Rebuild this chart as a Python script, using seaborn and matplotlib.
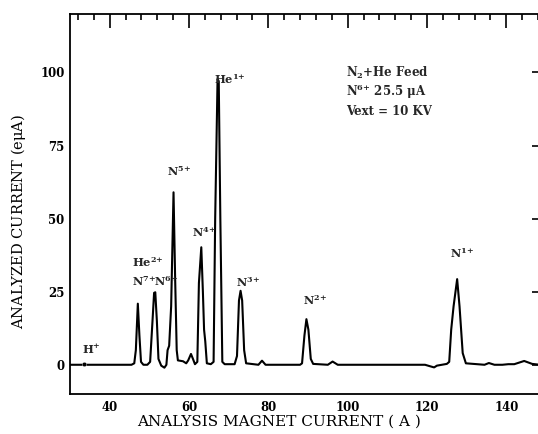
import matplotlib
matplotlib.use("Agg")
import matplotlib.pyplot as plt
import numpy as np
import pandas as pd
import seaborn as sns
from matplotlib.ticker import FixedLocator, MultipleLocator

# ---- data ----
magnet_current = [30, 33.0, 34.0, 45.5, 46.2, 46.6, 47.1, 47.5, 47.9, 48.5, 49.5,
                  50.2, 50.8, 51.2, 51.5, 51.9, 52.3, 53.0, 53.8, 54.3, 54.6, 55.0,
                  55.5, 56.1, 56.5, 56.9, 57.2, 58.5, 59.3, 59.8, 60.5, 61.0, 61.5,
                  62.1, 62.5, 63.1, 63.5, 63.8, 64.1, 64.5, 65.5, 66.2, 66.6, 67.2,
                  67.5, 67.9, 68.4, 69.0, 71.5, 72.1, 72.6, 73.0, 73.4, 73.9, 74.4,
                  77.5, 78.4, 79.3, 88.0, 88.5, 89.1, 89.6, 90.1, 90.7, 91.3, 95.0,
                  96.2, 97.5, 119.5, 121.0, 121.8, 122.5, 125.0, 125.6, 126.1, 126.7,
                  127.6, 128.2, 129.0, 129.8, 134.5, 135.6, 137.0, 139.0, 140.5,
                  142.0, 144.5, 146.5, 148.5, 150.0]
analyzed_current = [0, 0, 0, 0, 0.5, 5, 20.9, 10, 1, 0, 0,
                    1, 15, 24.6, 24.8, 15, 2, -0.3, -1.0, 0, 5, 6.5,
                    20, 59.0, 30, 5, 1.5, 1.2, 0.5, 1.5, 3.7, 2, 0.2,
                    1, 28, 40.2, 25, 12, 8, 0.5, 0.2, 1, 50, 97.8,
                    97, 50, 1, 0.2, 0.2, 3, 22, 25.3, 22, 5, 0.5,
                    0, 1.4, 0, 0, 0.5, 10, 15.6, 12, 2, 0.3, 0,
                    1.1, 0, 0, -0.6, -0.9, -0.3, 0.3, 1, 12, 20,
                    29.3, 20, 4, 0.5, 0, 0.6, 0, 0, 0.2,
                    0.2, 1.3, 0.3, 0, 0]

h_dot_x = [33.5]
h_dot_y = [0.3]

peak_labels = [r"H$^{\mathbf{{+}}}$", r"He$^{\mathbf{2{+}}}$", r"N$^{\mathbf{7{+}}}$",
               r"N$^{\mathbf{6{+}}}$", r"N$^{\mathbf{5{+}}}$", r"He$^{\mathbf{1{+}}}$",
               r"N$^{\mathbf{4{+}}}$", r"N$^{\mathbf{3{+}}}$", r"N$^{\mathbf{2{+}}}$",
               r"N$^{\mathbf{1{+}}}$"]
label_x = [33.1, 45.6, 45.6, 51.2, 54.5, 66.2, 60.8, 71.9, 88.7, 125.8]
label_y = [3.8, 33.3, 27.0, 27.0, 64.5, 95.9, 43.6, 26.5, 20.5, 36.5]

info_lines = [r"N$_{\mathbf{2}}$+He Feed", r"N$^{\mathbf{6{+}}}$ 25.5 $\mathbf{\mu}$A",
              "Vext = 10 KV"]
info_x = 99.6
info_y = [98.6, 92.1, 85.6]

x_ticks = [40, 60, 80, 100, 120, 140]
y_ticks = [0, 25, 50, 75, 100]
x_label = "ANALYSIS MAGNET CURRENT ( A )"
y_label = "ANALYZED CURRENT (e$\\mu$A)"

# ---- style ----
sns.set_theme(style="white")
plt.rcParams["font.family"] = ["DejaVu Serif"]
plt.rcParams["mathtext.fontset"] = "dejavuserif"
plt.rcParams["mathtext.default"] = "regular"

fig = plt.figure(figsize=(5.38, 4.34), dpi=100)
ax = fig.add_axes([70 / 538, 40 / 434, 476 / 538, 380 / 434])

df = pd.DataFrame({"x": magnet_current, "y": analyzed_current})
sns.lineplot(data=df, x="x", y="y", sort=False, estimator=None,
             color="black", linewidth=1.5, ax=ax)
sns.scatterplot(x=h_dot_x, y=h_dot_y, color="black", s=10, ax=ax, zorder=3)

ax.set_xlim(30, 150)
ax.set_ylim(-10, 120)

ax.xaxis.set_major_locator(FixedLocator(x_ticks))
ax.xaxis.set_minor_locator(MultipleLocator(4))
ax.yaxis.set_major_locator(FixedLocator(y_ticks))
ax.yaxis.set_minor_locator(MultipleLocator(5))

for sp in ax.spines.values():
    sp.set_color("black")
    sp.set_linewidth(1.3)

ax.tick_params(which="both", direction="in", top=True, right=True,
               color="black", width=1.2)
ax.tick_params(which="major", length=10)
ax.tick_params(which="minor", length=4)
ax.tick_params(axis="x", which="major", pad=5, labelsize=8.5)
ax.tick_params(axis="y", which="major", pad=4, labelsize=8.5)
ax.yaxis.set_tick_params(which="minor", right=False)
for lbl in ax.get_xticklabels() + ax.get_yticklabels():
    lbl.set_fontweight("bold")
    lbl.set_color("black")

ax.set_xlabel(x_label, fontsize=11, color="black")
ax.set_ylabel(y_label, fontsize=10.5, color="black")
ax.xaxis.set_label_coords((279 - 70) / 476, (394 - 415) / 380)
ax.yaxis.set_label_coords((28 - 70) / 476, (394 - 221) / 380)

for t, x, y in zip(peak_labels, label_x, label_y):
    ax.text(x, y, t, fontsize=8.2, fontweight="bold", ha="left", va="baseline")
for t, y in zip(info_lines, info_y):
    ax.text(info_x, y, t, fontsize=8.5, fontweight="bold", ha="left", va="baseline")

ax.grid(False)
fig.savefig("out.png", dpi=100)
